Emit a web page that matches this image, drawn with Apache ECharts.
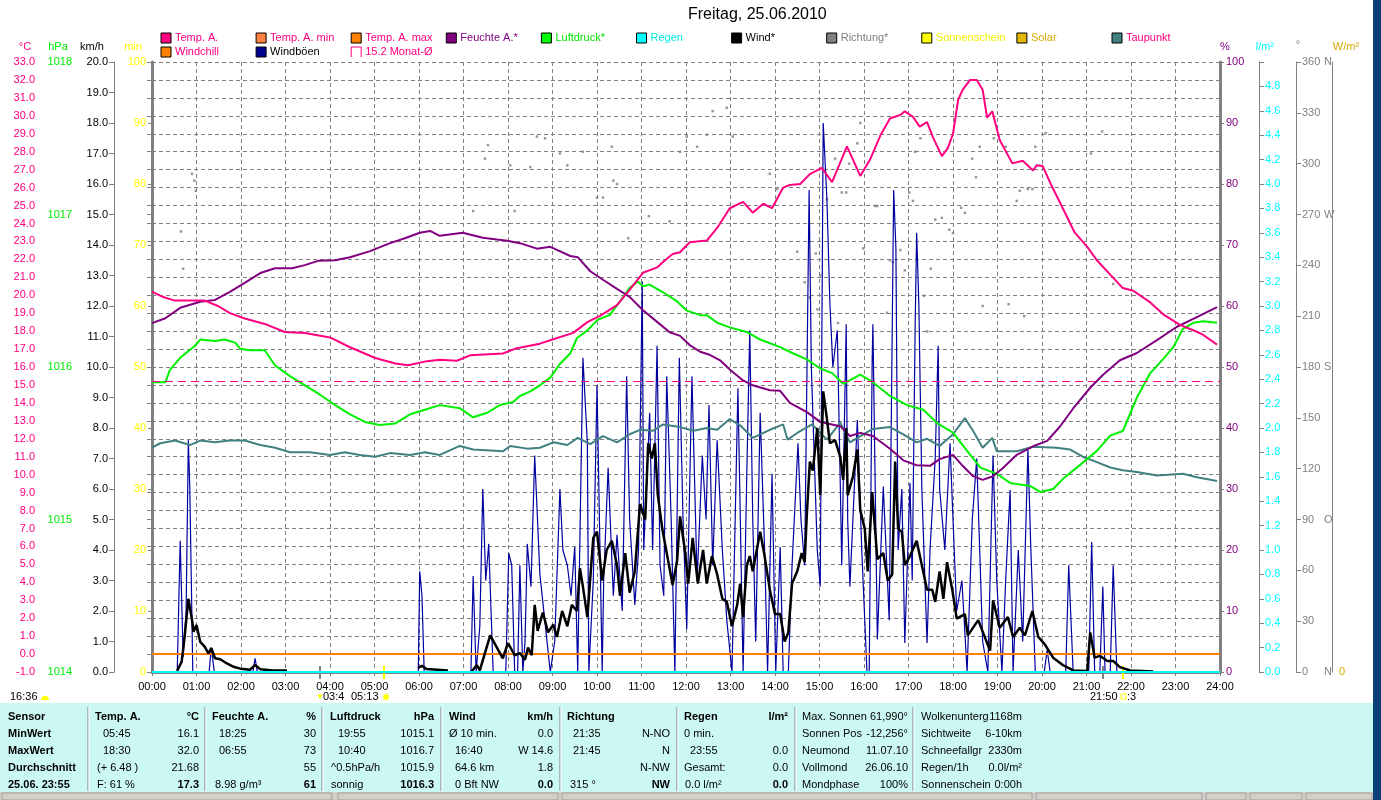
<!DOCTYPE html>
<html><head><meta charset="utf-8">
<script src="https://cdn.jsdelivr.net/npm/echarts@6/dist/echarts.min.js"></script>
<style>html,body{margin:0;padding:0;background:#fff;}#c{width:1381px;height:800px;}</style>
</head><body><div id="c"></div>
<script>
// ---- data (time in minutes after midnight) ----
const hourTicks = ['00:00','01:00','02:00','03:00','04:00','05:00','06:00','07:00','08:00','09:00','10:00','11:00','12:00','13:00','14:00','15:00','16:00','17:00','18:00','19:00','20:00','21:00','22:00','23:00','24:00'];
const monthAvg = 15.2;
const zeroLineTemp = 0;
const tempA = [[0,20.2],[15,19.9],[31,19.7],[51,19.7],[71,19.7],[89,19.4],[105,19.0],[125,18.7],[152,18.4],[179,17.95],[206,17.9],[240,17.65],[267,17.1],[301,16.5],[328,16.2],[345,16.1],[368,16.3],[388,16.4],[411,16.35],[429,16.65],[473,16.75],[492,17.05],[523,17.3],[541,17.55],[568,17.9],[587,18.5],[604,18.85],[627,19.45],[644,20.3],[662,21.25],[681,21.55],[689,21.85],[702,22.3],[712,22.4],[725,22.95],[748,23.05],[762,23.75],[779,24.85],[797,25.2],[810,24.6],[824,25.1],[836,24.85],[851,26.0],[860,26.15],[874,26.2],[887,26.75],[903,27.1],[917,26.3],[937,28.3],[955,26.65],[968,27.55],[982,28.9],[995,29.85],[1009,30.05],[1015,30.25],[1026,29.95],[1035,29.4],[1045,29.65],[1053,28.8],[1065,27.75],[1073,28.2],[1080,29.0],[1087,30.9],[1093,31.45],[1103,32.0],[1112,32.0],[1120,31.45],[1126,29.9],[1133,30.25],[1143,28.65],[1160,27.35],[1174,27.5],[1188,26.95],[1193,27.25],[1201,27.2],[1213,26.1],[1228,24.85],[1244,23.5],[1261,22.7],[1274,21.95],[1292,21.15],[1309,20.4],[1323,20.25],[1346,19.6],[1363,18.95],[1386,18.35],[1404,18.05],[1417,17.8],[1436,17.25]];
const humidity = [[0,57.2],[18,58.0],[38,59.7],[65,60.7],[85,61.0],[105,62.3],[125,63.8],[146,65.4],[166,66.2],[189,66.2],[206,66.7],[224,67.4],[247,67.5],[267,68.0],[294,69.0],[321,70.3],[341,71.1],[361,72.0],[375,72.3],[388,71.5],[419,72.0],[446,71.2],[465,70.9],[479,70.7],[496,70.3],[519,69.4],[537,69.7],[546,69.2],[564,68.2],[574,68.0],[591,65.7],[608,64.3],[627,62.8],[644,61.5],[662,59.3],[681,57.4],[698,55.7],[712,55.1],[725,53.6],[739,52.5],[752,52.0],[766,51.1],[779,49.6],[797,47.8],[810,47.0],[833,46.2],[847,46.1],[860,44.1],[883,42.6],[901,41.0],[928,40.3],[941,38.7],[955,39.2],[972,38.7],[995,36.6],[1013,34.7],[1031,33.9],[1049,33.8],[1062,34.9],[1080,35.6],[1093,33.8],[1107,32.1],[1120,31.5],[1134,32.1],[1147,33.4],[1166,35.6],[1188,37.0],[1207,37.9],[1224,40.2],[1242,43.2],[1265,46.6],[1282,48.7],[1305,51.1],[1328,52.3],[1355,54.4],[1382,56.6],[1404,57.9],[1436,59.8]];
const pressure = [[0,1015.90],[18,1015.90],[24,1015.98],[38,1016.06],[58,1016.14],[65,1016.18],[85,1016.17],[98,1016.18],[112,1016.16],[119,1016.12],[132,1016.11],[152,1016.11],[166,1016.01],[186,1015.94],[206,1015.88],[226,1015.82],[247,1015.75],[267,1015.69],[287,1015.64],[307,1015.62],[328,1015.63],[348,1015.69],[368,1015.72],[388,1015.75],[415,1015.73],[433,1015.67],[452,1015.70],[469,1015.75],[487,1015.77],[496,1015.81],[510,1015.84],[523,1015.88],[537,1015.93],[550,1016.02],[564,1016.09],[573,1016.19],[587,1016.24],[601,1016.31],[617,1016.34],[631,1016.43],[644,1016.52],[655,1016.56],[662,1016.53],[671,1016.54],[689,1016.49],[708,1016.43],[721,1016.37],[739,1016.34],[748,1016.34],[762,1016.29],[779,1016.26],[802,1016.23],[820,1016.18],[847,1016.13],[864,1016.09],[883,1016.05],[901,1015.99],[917,1015.96],[932,1015.89],[955,1015.95],[972,1015.90],[995,1015.81],[1018,1015.75],[1040,1015.72],[1059,1015.63],[1080,1015.57],[1099,1015.45],[1117,1015.34],[1139,1015.30],[1157,1015.24],[1184,1015.22],[1198,1015.18],[1215,1015.20],[1229,1015.27],[1252,1015.36],[1274,1015.45],[1292,1015.55],[1309,1015.58],[1328,1015.80],[1346,1015.96],[1363,1016.05],[1377,1016.13],[1390,1016.25],[1404,1016.29],[1417,1016.30],[1436,1016.29]];
const dewPoint = [[0,11.5],[11,11.75],[31,11.9],[51,11.65],[65,11.9],[85,11.8],[105,11.9],[125,11.9],[146,11.65],[166,11.5],[186,11.25],[213,11.25],[240,11.1],[260,11.25],[280,11.1],[301,11.0],[321,11.2],[348,11.1],[368,11.25],[388,11.1],[415,11.6],[433,11.4],[456,11.35],[473,11.3],[483,11.6],[506,11.45],[523,11.5],[541,11.8],[560,11.65],[574,12.05],[591,11.7],[608,12.15],[627,11.8],[644,12.25],[658,12.5],[676,12.45],[689,12.8],[712,12.65],[730,12.45],[748,12.6],[762,12.5],[779,13.1],[793,12.75],[810,12.05],[833,12.5],[851,12.8],[857,11.95],[871,12.35],[890,12.8],[910,11.95],[928,12.9],[941,11.8],[955,12.15],[972,12.55],[995,12.65],[1013,12.25],[1031,11.8],[1045,12.0],[1062,11.6],[1080,12.25],[1096,13.15],[1107,12.45],[1120,11.5],[1133,12.05],[1139,11.3],[1166,11.3],[1188,11.55],[1220,11.5],[1238,11.4],[1255,11.0],[1274,10.7],[1292,10.4],[1309,10.25],[1328,10.15],[1355,9.95],[1390,10.05],[1409,9.85],[1436,9.65]];
const wind = [[34,0.04],[40,0.34],[44,1.16],[49,2.4],[54,1.7],[56,1.32],[60,1.54],[65,0.99],[71,0.83],[76,0.61],[80,0.78],[85,0.45],[92,0.42],[101,0.28],[110,0.17],[119,0.11],[132,0.07],[139,0.23],[146,0.09],[163,0.05],[182,0.05],[183,'-'],[359,0.13],[364,0.2],[370,0.1],[399,0.05],[400,'-'],[431,0.02],[438,0.23],[442,0.05],[456,1.2],[473,0.45],[480,0.95],[489,0.55],[496,0.62],[503,0.4],[507,0.8],[512,0.55],[516,2.2],[520,1.35],[527,1.95],[534,1.3],[541,1.55],[546,1.15],[553,2.0],[560,1.5],[566,2.2],[573,2.0],[577,3.4],[581,2.8],[587,1.8],[595,4.4],[600,4.6],[607,3.0],[613,4.0],[620,4.3],[627,3.5],[631,2.5],[638,3.9],[644,2.6],[651,3.3],[658,5.5],[665,5.0],[669,7.5],[674,7.0],[678,7.5],[682,5.8],[688,4.7],[694,3.9],[702,2.85],[708,3.65],[712,5.1],[719,3.9],[723,2.9],[729,4.4],[736,2.9],[743,4.0],[748,2.9],[755,3.8],[762,3.2],[769,2.4],[775,2.3],[782,1.5],[789,2.2],[793,2.9],[797,1.8],[802,3.5],[806,3.8],[810,3.3],[820,4.6],[826,3.8],[833,2.7],[840,1.9],[847,1.9],[853,1.0],[858,1.3],[863,2.9],[870,3.3],[876,3.9],[880,3.6],[883,5.2],[887,6.9],[891,6.6],[897,8.0],[901,5.8],[905,9.2],[910,8.3],[914,7.5],[921,7.6],[928,7.05],[932,6.3],[936,8.0],[938,5.8],[945,6.4],[951,7.3],[955,5.3],[961,4.7],[965,3.3],[971,5.9],[978,3.7],[986,3.9],[992,3.0],[998,3.2],[1002,6.9],[1006,4.7],[1011,4.6],[1015,3.5],[1022,3.8],[1031,4.3],[1038,3.5],[1045,2.7],[1052,2.7],[1056,2.3],[1062,3.3],[1067,2.4],[1072,3.6],[1079,2.7],[1085,1.75],[1096,1.9],[1100,1.2],[1114,1.7],[1130,0.7],[1134,2.35],[1143,1.45],[1154,1.8],[1161,1.15],[1170,1.45],[1177,1.2],[1187,2.0],[1195,1.15],[1204,0.9],[1215,0.47],[1228,0.23],[1242,0.05],[1261,0.03],[1265,1.3],[1271,0.47],[1278,0.53],[1288,0.36],[1296,0.36],[1305,0.16],[1319,0.05],[1350,0.02]];
const gusts = [[0,0],[34,0],[38,4.3],[42,0.5],[46,2],[49,7.6],[51,6],[55,0],[77,0],[80,0.8],[84,0],[136,0],[139,0.45],[142,0],[359,0],[361,3.3],[364,2.5],[367,0],[430,0],[433,3.15],[437,0],[442,1.5],[446,6.0],[450,3],[454,4.2],[460,0],[477,0],[481,3.9],[485,3.5],[489,0],[493,0],[496,3.5],[500,0],[503,1],[506,4.2],[511,2.8],[516,7.1],[523,3.2],[537,0],[543,1],[550,6.0],[554,4],[560,3.5],[565,2.5],[570,4.1],[574,0],[581,10.3],[587,7.5],[589,0],[595,3],[600,9.4],[607,0],[609,3],[615,6.7],[622,2.5],[627,4.5],[634,2],[640,9.7],[644,5],[651,2.2],[656,4],[661,12.8],[663,4],[671,8.5],[675,4],[681,10.7],[685,3.5],[690,2.5],[694,9.7],[700,5],[705,0],[711,10.3],[716,5],[721,1.4],[728,9.7],[735,3],[742,7.1],[747,5],[751,8.75],[756,3.5],[762,7.6],[769,4],[775,1.7],[782,0],[790,9.3],[797,0],[802,6.56],[806,11.2],[810,5],[814,1],[820,8.5],[826,4],[830,0],[836,6.5],[841,0],[847,4.1],[851,0],[858,0],[863,3.5],[871,7.5],[875,5],[880,3.5],[886,15.8],[889,10],[891,10],[897,4],[901,2.8],[905,18.0],[910,15.5],[914,12.1],[918,10],[924,11.2],[928,6.2],[930,3.5],[936,11.4],[938,5],[941,2.8],[951,8.26],[957,4],[964,0],[967,0],[971,10.2],[972,11.4],[978,1.07],[986,6.08],[994,1.7],[1000,15.8],[1003,13.9],[1006,4],[1011,6],[1015,0.95],[1022,6.2],[1025,3],[1029,11.4],[1031,14.4],[1034,12],[1038,6],[1045,0.95],[1049,4],[1056,7],[1060,10.7],[1062,6],[1069,4],[1076,7.5],[1080,5],[1085,2],[1092,3],[1099,0],[1106,5],[1112,7.0],[1120,1],[1127,0],[1134,7.1],[1139,3],[1146,0],[1151,3],[1157,5.97],[1161,0],[1168,4],[1174,1],[1181,7.3],[1185,4],[1191,0],[1203,0],[1207,0.72],[1211,0],[1232,0],[1236,3.5],[1242,0],[1263,0],[1267,4.26],[1271,0],[1278,0],[1282,2.8],[1285,0],[1292,0],[1296,3.5],[1301,0],[1440,0]];
const direction = [[39,260],[42,238],[54,294],[57,290],[59,284],[433,272],[449,303],[453,311],[483,299],[489,272],[510,298],[519,316],[530,315],[550,306],[560,299],[581,307],[600,280],[608,280],[620,310],[622,290],[627,288],[642,256],[670,269],[698,266],[712,307],[721,316],[735,310],[748,317],[756,331],[775,333],[783,316],[833,294],[843,285],[870,248],[880,230],[887,221],[895,247],[897,214],[901,234],[910,279],[921,303],[925,206],[930,283],[936,283],[940,300],[951,312],[955,324],[959,250],[975,275],[978,275],[991,212],[995,243],[999,242],[1009,249],[1015,237],[1021,283],[1026,278],[1029,307],[1036,315],[1041,222],[1045,201],[1050,238],[1056,267],[1065,268],[1075,261],[1080,259],[1091,274],[1096,271],[1106,303],[1111,292],[1116,310],[1120,216],[1135,315],[1151,310],[1155,217],[1166,278],[1170,284],[1176,210],[1181,285],[1187,285],[1191,310],[1205,318],[1266,306],[1281,319],[1296,229]];
const rain = [[0,0],[1440,0]];
const dirLetters = {0:'N',90:'O',180:'S',270:'W',360:'N'};

const legendRow1 = [['Temp. A.','#FF0080','#FF0080'],['Temp. A. min','#FF8040','#FF0080'],['Temp. A. max','#FF8000','#FF0080'],['Feuchte A.*','#800080','#800080'],['Luftdruck*','#00FF00','#00E000'],['Regen','#00FFFF','#00E8E8'],['Wind*','#000000','#000000'],['Richtung*','#808080','#808080'],['Sonnenschein','#FFFF00','#F0F000'],['Solar','#E0B800','#D8A800'],['Taupunkt','#408080','#FF0080']];
const legendRow2 = [['Windchill','#FF8000','#FF0080'],['Windböen','#000090','#000000'],['15.2 Monat-Ø',null,'#FF0080']];

const tableCols = [
 {l:8, r:null, rows:[['Sensor',''],['MinWert',''],['MaxWert',''],['Durchschnitt',''],['25.06. 23:55','']], boldAll:true},
 {l:95, r:199, rows:[['Temp. A.','°C'],['05:45','16.1'],['18:30','32.0'],['(+ 6.48 )','21.68'],['F: 61 %','17.3']], ind:[0,8,8,2,2]},
 {l:212, r:316, rows:[['Feuchte A.','%'],['18:25','30'],['06:55','73'],['','55'],['8.98 g/m³','61']], ind:[0,7,7,2,3]},
 {l:330, r:434, rows:[['Luftdruck','hPa'],['19:55','1015.1'],['10:40','1016.7'],['^0.5hPa/h','1015.9'],['sonnig','1016.3']], ind:[0,8,8,1,1]},
 {l:449, r:553, rows:[['Wind','km/h'],['Ø 10 min.','0.0'],['16:40','W 14.6'],['64.6 km','1.8'],['0 Bft NW','0.0']], ind:[0,0,6,6,6]},
 {l:567, r:670, rows:[['Richtung',''],['21:35','N-NO'],['21:45','N'],['','N-NW'],['315 °','NW']], ind:[0,6,6,3,3]},
 {l:684, r:788, rows:[['Regen','l/m²'],['0 min.',''],['23:55','0.0'],['Gesamt:','0.0'],['0.0 l/m²','0.0']], ind:[0,0,6,0,1]},
 {l:802, r:908, rows:[['Max. Sonnen','61,990°'],['Sonnen Pos','-12,256°'],['Neumond','11.07.10'],['Vollmond','26.06.10'],['Mondphase','100%']], plain:true},
 {l:921, r:1022, rows:[['Wolkenunterg','1168m'],['Sichtweite','6-10km'],['Schneefallgr','2330m'],['Regen/1h','0.0l/m²'],['Sonnenschein','0:00h']], plain:true}
];
const tableDividers = [88,205,322,441,560,677,795,913];
const tableRowY = [717,734,751,768,785];

// ---- chart ----
const FONT = 'Liberation Sans, Arial, sans-serif';
const GRAY = '#808080';
const chart = echarts.init(document.getElementById('c'), null, {renderer:'canvas'});

function fix1(v){ return (Math.round(v*10)/10).toFixed(1); }
function yAxisBase(o){
  return Object.assign({
    type:'value', splitLine:{show:false},
    axisLine:{show:true, lineStyle:{color:GRAY, width:1}},
    axisTick:{show:true, length:5, lineStyle:{color:GRAY}},
  }, o);
}
const yAxes = [
  yAxisBase({position:'left', offset:111, min:-1, max:33, interval:1,
    axisLabel:{color:'#FF0080', fontSize:11, fontFamily:FONT, margin:6, formatter:v=>fix1(v)},
    splitLine:{show:true, lineStyle:{color:GRAY, type:[4,3], width:1}}}),
  yAxisBase({position:'left', offset:74, min:1014, max:1018, interval:1,
    axisLabel:{color:'#00EE00', fontSize:11, fontFamily:FONT, margin:6, formatter:v=>String(Math.round(v))}}),
  yAxisBase({position:'left', offset:38, min:0, max:20, interval:1,
    axisLabel:{color:'#000', fontSize:11, fontFamily:FONT, margin:6, formatter:v=>fix1(v)}}),
  yAxisBase({position:'left', offset:0, min:0, max:100, interval:10,
    axisLine:{show:true, lineStyle:{color:GRAY, width:3}}, axisTick:{show:true,length:4,lineStyle:{color:GRAY}},
    axisLabel:{color:'#FFFF00', fontSize:11, fontFamily:FONT, margin:6, formatter:v=>String(Math.round(v))}}),
  yAxisBase({position:'right', offset:0, min:0, max:100, interval:10,
    axisLine:{show:true, lineStyle:{color:GRAY, width:3}}, axisTick:{show:true,length:4,lineStyle:{color:GRAY}},
    axisLabel:{color:'#800080', fontSize:11, fontFamily:FONT, margin:6, formatter:v=>String(Math.round(v))}}),
  yAxisBase({position:'right', offset:39, min:0, max:5, interval:0.2,
    axisLabel:{color:'#00FFFF', fontSize:11, fontFamily:FONT, margin:6, formatter:v=>v>4.9?'':fix1(v)}}),
  yAxisBase({position:'right', offset:76, min:0, max:360, interval:30,
    axisLabel:{color:GRAY, fontSize:11, fontFamily:FONT, margin:6,
      formatter:v=>{const r=Math.round(v); return dirLetters[r]!==undefined?'{v|'+r+'}{d|'+dirLetters[r]+'}':'{v|'+r+'}';},
      rich:{v:{width:22,color:GRAY,fontSize:11,fontFamily:FONT},d:{color:GRAY,fontSize:11,fontFamily:FONT}}}}),
  yAxisBase({position:'right', offset:112, min:0, max:1000, interval:1000,
    axisTick:{show:false},
    axisLabel:{color:'#D8A800', fontSize:11, fontFamily:FONT, margin:7, formatter:v=>v===0?'0':''}}),
  yAxisBase({position:'left', offset:0, min:-1, max:33, interval:1, axisLine:{show:false},
    axisTick:{show:true, inside:true, length:4, lineStyle:{color:GRAY}}, axisLabel:{show:false}}),
  yAxisBase({position:'right', offset:0, min:-1, max:33, interval:1, axisLine:{show:false},
    axisTick:{show:true, inside:true, length:4, lineStyle:{color:GRAY}}, axisLabel:{show:false}})
];

const g = [];
function txt(x,y,text,o){ o=o||{}; g.push({type:'text', x:x, y:y, silent:true, z:o.z||10, style:{text:text, fill:o.color||'#000', font:(o.bold?'bold ':'')+(o.size||11)+'px '+FONT, textAlign:o.align||'left', textVerticalAlign:'middle'}}); }
function rect(x,y,w,h,fill,stroke,z){ g.push({type:'rect', silent:true, z:z||5, shape:{x:x,y:y,width:w,height:h}, style:{fill:fill||'none', stroke:stroke||null, lineWidth:1}}); }
function line(x1,y1,x2,y2,color,w,z){ g.push({type:'line', silent:true, z:z||6, shape:{x1:x1,y1:y1,x2:x2,y2:y2}, style:{stroke:color, lineWidth:w||1}}); }

// title
txt(688,15,'Freitag, 25.06.2010',{size:16});
// legend
legendRow1.forEach((it,i)=>{ const x=161+i*95.1, y=38; rect(x,y-5,10,10,it[1],'#000'); txt(x+14,y,it[0],{color:it[2]}); });
legendRow2.forEach((it,i)=>{ const x=161+i*95.1, y=52;
  if(it[1]) rect(x,y-5,10,10,it[1],'#000');
  else g.push({type:'polyline', silent:true, z:6, shape:{points:[[x,y+5],[x,y-5],[x+10,y-5],[x+10,y+5]]}, style:{stroke:'#FF0080', lineWidth:1, fill:'none'}});
  txt(x+14,y,it[0],{color:it[2]}); });
// axis names
txt(25,47,'°C',{color:'#FF0080',align:'center'});
txt(58,47,'hPa',{color:'#00EE00',align:'center'});
txt(92,47,'km/h',{color:'#000',align:'center'});
txt(133,47,'min',{color:'#FFFF00',align:'center'});
txt(1225,47,'%',{color:'#800080',align:'center'});
txt(1265,47,'l/m²',{color:'#00FFFF',align:'center'});
txt(1298,45,'°',{color:GRAY,align:'center'});
txt(1346,47,'W/m²',{color:'#D8A800',align:'center'});
// sun / moon markers under the axis
line(320,666,320,679,GRAY,2); line(384,666,384,679,'#FFFF00',2);
line(1103,666,1103,679,GRAY,2); line(1123,666,1123,679,'#FFFF00',2);
txt(10,697,'16:36'); g.push({type:'sector',silent:true,z:6,shape:{cx:45,cy:700,r:4,startAngle:Math.PI,endAngle:2*Math.PI},style:{fill:'#FFFF00'}});
txt(316,697,'▼',{color:'#FFFF00',size:8}); txt(323,697,'03:4'); txt(351,697,'05:13');
g.push({type:'circle',silent:true,z:6,shape:{cx:386,cy:697,r:3},style:{fill:'#FFFF00',stroke:'#FFFF80',lineWidth:1}});
txt(1090,697,'21:50'); rect(1121,694,5,5,'none','#FFFF00',6); txt(1127,697,':3');
// table panel
rect(0,703,1373,89,'#CCF8F4',null,1);
tableDividers.forEach(x=>{ line(x,707,x,791,GRAY,1,3); line(x+1,707,x+1,791,'#FFFFFF',1,3); });
tableCols.forEach(c=>{
  c.rows.forEach((r,i)=>{
    const y=tableRowY[i];
    if(c.boldAll){ txt(c.l,y,r[0],{bold:true}); return; }
    if(c.plain){ txt(c.l,y,r[0]); txt(c.r,y,r[1],{align:'right'}); return; }
    const head = i===0, last = i===4;
    txt(c.l+(c.ind?c.ind[i]:0),y,r[0],{bold:head});
    if(r[1]) txt(c.r,y,r[1],{bold:head||last,align:'right'});
  });
});
// status bar and right desktop strip
rect(0,792,1373,8,'#D4D0C8',null,1);
[[2,793,330,7],[338,793,220,7],[562,793,470,7],[1036,793,166,7],[1206,793,40,7],[1250,793,52,7],[1306,793,66,7]].forEach(b=>rect(b[0],b[1],b[2],b[3],'#D4D0C8','#A0A0A0',2));
rect(1373,0,8,800,'#0B3F78',null,1);

const option = {
  animation:false,
  backgroundColor:'#FFFFFF',
  grid:{left:152, top:62, width:1068, height:610, containLabel:false, show:false},
  xAxis:[
    {type:'value', min:0, max:1440, interval:60, position:'bottom',
     axisLine:{show:true, lineStyle:{color:GRAY}}, axisTick:{show:false},
     axisLabel:{color:'#000', fontSize:11, fontFamily:FONT, margin:9, formatter:v=>hourTicks[Math.round(v/60)]},
     splitLine:{show:true, lineStyle:{color:GRAY, type:[4,3], width:1}}},
    {type:'value', min:0, max:1440, interval:60, position:'top',
     axisLine:{show:true, lineStyle:{color:GRAY, width:3}}, axisTick:{show:true, inside:true, length:4, lineStyle:{color:GRAY}},
     axisLabel:{show:false}, splitLine:{show:false}}
  ],
  yAxis:yAxes,
  series:[
    {name:'Richtung', type:'scatter', yAxisIndex:6, data:direction, symbol:'rect', symbolSize:2.5, itemStyle:{color:GRAY}, z:2},
    {name:'Windböen', type:'line', yAxisIndex:2, data:gusts, showSymbol:false, lineStyle:{color:'#0000A0', width:1.2}, z:3},
    {name:'Taupunkt', type:'line', yAxisIndex:0, data:dewPoint, showSymbol:false, lineStyle:{color:'#408080', width:2}, z:4},
    {name:'Luftdruck', type:'line', yAxisIndex:1, data:pressure, showSymbol:false, lineStyle:{color:'#00F000', width:2}, z:4},
    {name:'Feuchte A.', type:'line', yAxisIndex:4, data:humidity, showSymbol:false, lineStyle:{color:'#800080', width:2}, z:5},
    {name:'Temp. A.', type:'line', yAxisIndex:0, data:tempA, showSymbol:false, lineStyle:{color:'#FF0080', width:2}, z:6,
     markLine:{silent:true, symbol:'none', label:{show:false},
       data:[{yAxis:zeroLineTemp, lineStyle:{color:'#FF8000', type:'solid', width:2}},
             {yAxis:monthAvg, lineStyle:{color:'#FF0080', type:[8,5], width:1}}]}},
    {name:'Wind', type:'line', yAxisIndex:2, data:wind, showSymbol:false, connectNulls:false, lineStyle:{color:'#000000', width:2.5}, z:7},
    {name:'Regen', type:'line', yAxisIndex:5, data:rain, showSymbol:false, lineStyle:{color:'#00FFFF', width:2}, z:8}
  ],
  graphic:g
};
chart.setOption(option);
</script>
</body></html>
